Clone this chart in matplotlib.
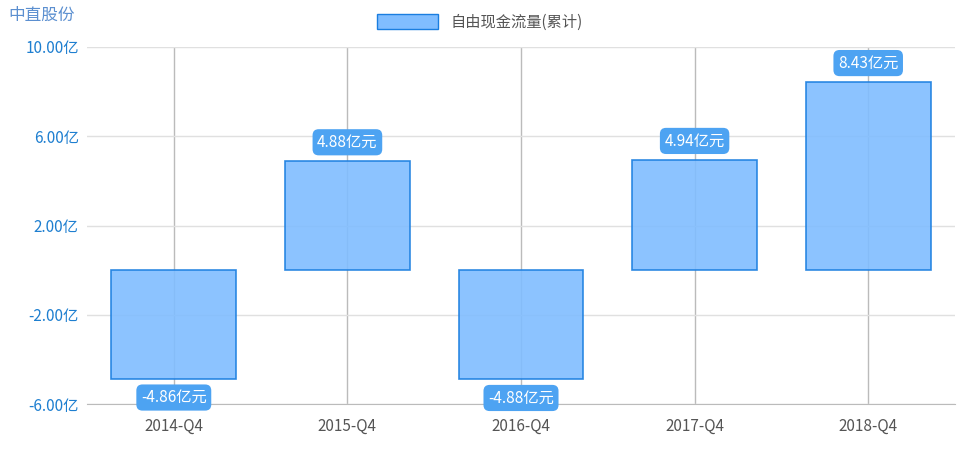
import matplotlib
matplotlib.use("Agg")
import matplotlib.pyplot as plt
import matplotlib.patches as mpatches

plt.rcParams['font.family'] = ['Noto Sans CJK SC', 'DejaVu Sans']

quarters = ["2014-Q4", "2015-Q4", "2016-Q4", "2017-Q4", "2018-Q4"]
values = [-4.86, 4.88, -4.88, 4.94, 8.43]
yticks = [-6, -2, 2, 6, 10]

BAR = "#80bdff"
EDGE = "#1a7ee0"
LABEL_BG = "#4da3f2"
GRID = "#e0e0e0"

fig = plt.figure(figsize=(9.6, 4.5), dpi=100)
ax = fig.add_axes([87/960, 1 - 404/450, (955-87)/960, (404-47)/450])

x = range(len(quarters))
for xi in x:
    ax.axvline(xi, color="#bbbbbb", linewidth=1, zorder=1)
ax.bar(x, values, width=0.72, color=BAR, alpha=0.9, edgecolor=EDGE, linewidth=1.2, zorder=3)

for xi, v in zip(x, values):
    off = 0.85 if v > 0 else -0.85
    ax.text(xi, v + off, f"{v:.2f}亿元", ha="center", va="center", fontsize=11,
            color="white", zorder=5,
            bbox=dict(boxstyle="round,pad=0.3,rounding_size=0.4", fc=LABEL_BG, ec="none"))

ax.set_xlim(-0.5, 4.5)
ax.set_ylim(-6, 10)
ax.set_yticks(yticks)
ax.set_yticklabels([f"{t:.2f}亿" for t in yticks], color="#1e7fd0", fontsize=11)
ax.set_xticks(list(x))
ax.set_xticklabels(quarters, color="#555555", fontsize=11)
ax.yaxis.grid(True, color=GRID, linewidth=1, zorder=0)
ax.tick_params(axis="y", length=0, pad=6)
ax.tick_params(axis="x", length=0, pad=10)
for s in ["top", "right", "left"]:
    ax.spines[s].set_visible(False)
ax.spines["bottom"].set_color("#bbbbbb")

fig.text(8/960, 1 - 15/450, "中直股份", color="#5b8fd0", fontsize=12, va="center")
handle = mpatches.Patch(facecolor=BAR, edgecolor=EDGE, label="自由现金流量(累计)")
fig.legend(handles=[handle], loc="center", bbox_to_anchor=(0.5, 1 - 22/450), frameon=False,
           fontsize=11, handlelength=4, handleheight=1.1, labelcolor="#555555")

fig.savefig("out.png", dpi=100)
